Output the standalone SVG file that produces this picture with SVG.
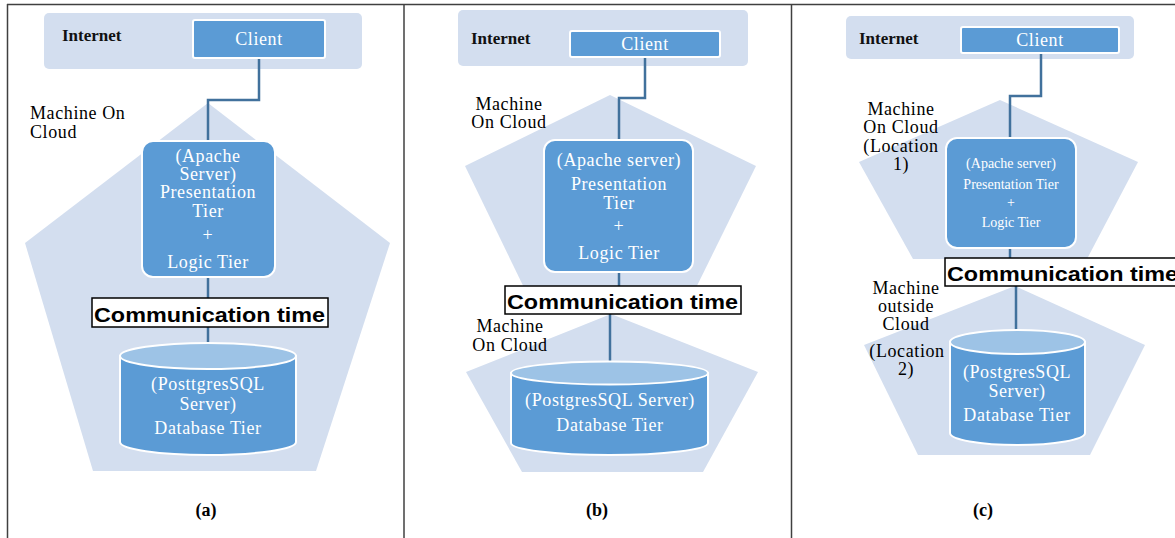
<svg xmlns="http://www.w3.org/2000/svg" width="1175" height="538" viewBox="0 0 1175 538">
<defs>
<style>
.bg{fill:#ffffff}
.frame{stroke:#404040;stroke-width:1.5;fill:none}
.zone{fill:#D3DEEF}
.box{fill:#5B9BD5;stroke:#ffffff;stroke-width:2}
.cyl{fill:#5B9BD5;stroke:#ffffff;stroke-width:2}
.cyltop{fill:#9DC3E6;stroke:#ffffff;stroke-width:2}
.conn{fill:none;stroke:#41719C;stroke-width:2.5}
.comm{fill:#ffffff;stroke:#000000;stroke-width:1.5}
.lbl{font-family:"Liberation Serif",serif;font-size:18px;letter-spacing:0.6px;fill:#000000}
.lblc{font-family:"Liberation Serif",serif;font-size:18px;letter-spacing:0.6px;fill:#000000;text-anchor:middle}
.inet{font-family:"Liberation Serif",serif;font-size:17px;font-weight:bold;fill:#111111}
.wt{font-family:"Liberation Serif",serif;font-size:18px;fill:#ffffff;text-anchor:middle;letter-spacing:0.6px}
.wts{font-family:"Liberation Serif",serif;font-size:14px;fill:#ffffff;text-anchor:middle}
.ct{font-family:"Liberation Sans",Arial,sans-serif;font-size:21px;font-weight:bold;fill:#000000}
.cap{font-family:"Liberation Serif",serif;font-size:18px;font-weight:bold;fill:#000000;text-anchor:middle}
</style>
</defs>
<rect class="bg" x="0" y="0" width="1175" height="538"/>
<g id="frame">
<line class="frame" x1="7" y1="4.5" x2="1175" y2="4.5"/>
<line class="frame" x1="7.5" y1="4" x2="7.5" y2="538"/>
<line class="frame" x1="404" y1="4" x2="404" y2="538"/>
<line class="frame" x1="791.5" y1="4" x2="791.5" y2="538"/>
</g>

<g id="zones">
<rect id="internet-a" class="zone" x="44" y="13" width="318" height="56" rx="5"/>
<rect id="internet-b" class="zone" x="458" y="10" width="290" height="56" rx="5"/>
<rect id="internet-c" class="zone" x="846" y="16" width="288" height="43" rx="5"/>
<polygon id="cloud-a" class="zone" points="208,103 390,243 316,471 93,471 25,243"/>
<polygon id="cloud-b1" class="zone" points="610,95 756,166 690,300 530,300 465,166"/>
<polygon id="cloud-b2" class="zone" points="611,314 758,372 703,472 522,472 466,372"/>
<polygon id="cloud-c1" class="zone" points="1000,100 1138,162 1087,259 913,259 859,162"/>
<polygon id="cloud-c2" class="zone" points="1015,286 1145,345 1090,455 918,455 864,345"/>
</g>

<g id="connectors">
<polyline class="conn" points="259,58 259,100 208,100 208,142"/>
<line class="conn" x1="208" y1="276" x2="208" y2="299"/>
<line class="conn" x1="208" y1="326" x2="208" y2="344"/>
<polyline class="conn" points="645,57 645,98 619,98 619,141"/>
<line class="conn" x1="619" y1="271" x2="619" y2="287"/>
<line class="conn" x1="610" y1="313" x2="610" y2="362"/>
<polyline class="conn" points="1041,53 1041,96 1010,96 1010,139"/>
<line class="conn" x1="1010" y1="247" x2="1010" y2="259"/>
<line class="conn" x1="1016" y1="285" x2="1016" y2="331"/>
</g>

<g id="client-a"><rect class="box" x="193" y="20" width="132" height="38" rx="2"/><text class="wt" x="259" y="45">Client</text></g>
<g id="client-b"><rect class="box" x="570" y="31" width="150" height="26" rx="2"/><text class="wt" x="645" y="50">Client</text></g>
<g id="client-c"><rect class="box" x="961" y="27" width="158" height="26" rx="2"/><text class="wt" x="1040" y="46">Client</text></g>

<g id="apache-a">
<rect class="box" x="142" y="141" width="133" height="136" rx="11"/>
<text class="wt" x="208" y="162">(Apache</text>
<text class="wt" x="208" y="180">Server)</text>
<text class="wt" x="208" y="198">Presentation</text>
<text class="wt" x="208" y="217">Tier</text>
<text class="wt" x="208" y="241">+</text>
<text class="wt" x="208" y="268">Logic Tier</text>
</g>
<g id="apache-b">
<rect class="box" x="544" y="140" width="149" height="132" rx="11"/>
<text class="wt" x="619" y="166">(Apache server)</text>
<text class="wt" x="619" y="190">Presentation</text>
<text class="wt" x="619" y="209">Tier</text>
<text class="wt" x="619" y="232">+</text>
<text class="wt" x="619" y="259">Logic Tier</text>
</g>
<g id="apache-c">
<rect class="box" x="946" y="138" width="130" height="110" rx="11"/>
<text class="wts" x="1011" y="168">(Apache server)</text>
<text class="wts" x="1011" y="189">Presentation Tier</text>
<text class="wts" x="1011" y="207">+</text>
<text class="wts" x="1011" y="227">Logic Tier</text>
</g>

<g id="db-a">
<path class="cyl" d="M120,356 L120,442 A88,13 0 0 0 296,442 L296,356 Z"/>
<ellipse class="cyltop" cx="208" cy="356" rx="88" ry="13"/>
<text class="wt" x="208" y="390">(PosttgresSQL</text>
<text class="wt" x="208" y="410">Server)</text>
<text class="wt" x="208" y="434">Database Tier</text>
</g>
<g id="db-b">
<path class="cyl" d="M511,373 L511,443 A98.5,12 0 0 0 708,443 L708,373 Z"/>
<ellipse class="cyltop" cx="609.5" cy="373" rx="98.5" ry="11.5"/>
<text class="wt" x="610" y="406">(PostgresSQL Server)</text>
<text class="wt" x="610" y="431">Database Tier</text>
</g>
<g id="db-c">
<path class="cyl" d="M950,342 L950,433 A67.5,12 0 0 0 1085,433 L1085,342 Z"/>
<ellipse class="cyltop" cx="1017.5" cy="342" rx="67.5" ry="12"/>
<text class="wt" x="1017" y="378">(PostgresSQL</text>
<text class="wt" x="1017" y="397">Server)</text>
<text class="wt" x="1017" y="421">Database Tier</text>
</g>

<g id="comm-a"><rect class="comm" x="92" y="298" width="236" height="29"/><text class="ct" x="94" y="322" textLength="231" lengthAdjust="spacingAndGlyphs">Communication time</text></g>
<g id="comm-b"><rect class="comm" x="505" y="286" width="236" height="28"/><text class="ct" x="507" y="309" textLength="231" lengthAdjust="spacingAndGlyphs">Communication time</text></g>
<g id="comm-c"><rect class="comm" x="945" y="258" width="240" height="28"/><text class="ct" x="947" y="281" textLength="231" lengthAdjust="spacingAndGlyphs">Communication time</text></g>

<g id="labels">
<text class="inet" x="62" y="41">Internet</text>
<text class="inet" x="471" y="44">Internet</text>
<text class="inet" x="859" y="44">Internet</text>
<text class="lbl" x="30" y="119">Machine On</text>
<text class="lbl" x="30" y="138">Cloud</text>
<text class="lblc" x="509" y="110">Machine</text>
<text class="lblc" x="509" y="128">On Cloud</text>
<text class="lblc" x="510" y="332">Machine</text>
<text class="lblc" x="510" y="351">On Cloud</text>
<text class="lblc" x="901" y="115">Machine</text>
<text class="lblc" x="901" y="133">On Cloud</text>
<text class="lblc" x="901" y="152">(Location</text>
<text class="lblc" x="901" y="170">1)</text>
<text class="lblc" x="906" y="294">Machine</text>
<text class="lblc" x="906" y="312">outside</text>
<text class="lblc" x="906" y="330">Cloud</text>
<text class="lblc" x="907" y="357">(Location</text>
<text class="lblc" x="906" y="375">2)</text>
<text class="cap" x="206" y="516">(a)</text>
<text class="cap" x="597" y="516">(b)</text>
<text class="cap" x="983" y="516">(c)</text>
</g>
</svg>
